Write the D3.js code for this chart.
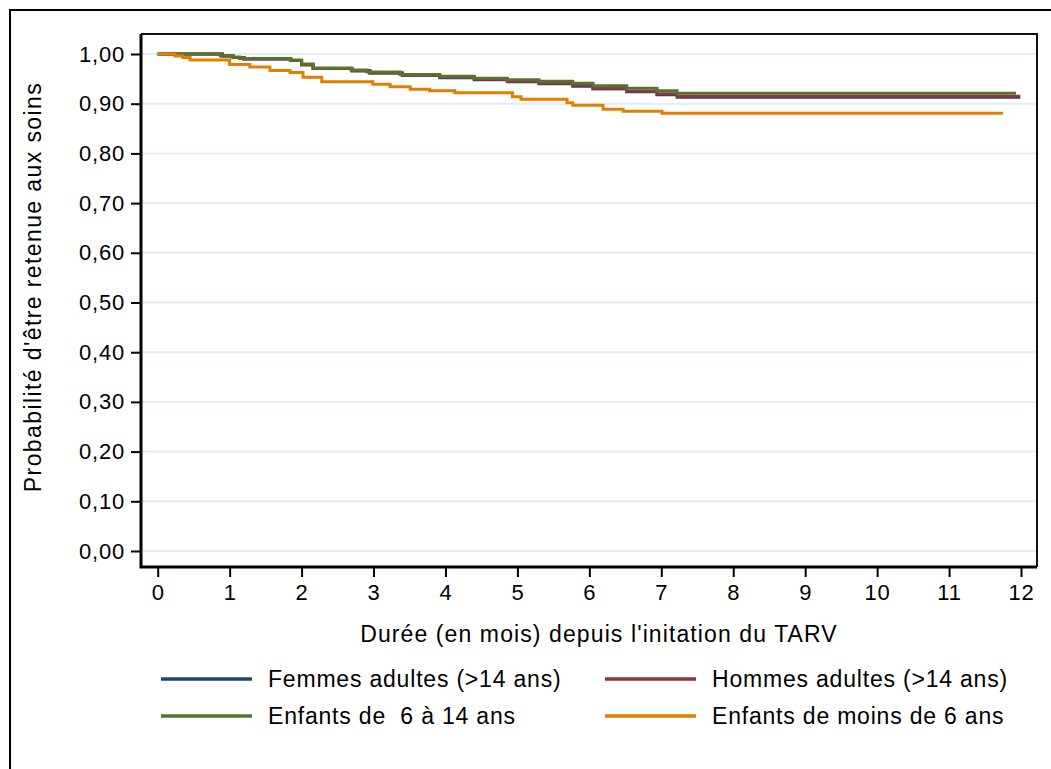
<!DOCTYPE html>
<html>
<head>
<meta charset="utf-8">
<script src="https://cdn.jsdelivr.net/npm/d3@7"></script>
<style>
  body { margin: 0; background: #fff; }
  svg { display: block; font-family: "Liberation Sans", Arial, sans-serif; }
</style>
</head>
<body>
<div id="plot"></div>
<script>
// Kaplan-Meier style retention curves (step functions)
// each series: months since ART start, probability
const femmesT = [0, 0.9, 1.05, 1.2, 1.85, 2.0, 2.16, 2.7, 2.95, 3.4, 3.92, 4.4, 4.86, 5.3, 5.77, 6.05, 6.52, 6.94, 7.22, 11.99];
const femmesV = [1.000, 0.996, 0.993, 0.990, 0.987, 0.979, 0.971, 0.966, 0.962, 0.957, 0.952, 0.948, 0.944, 0.940, 0.935, 0.930, 0.924, 0.918, 0.913, 0.913];

const hommesT = [0, 0.9, 1.05, 1.2, 1.85, 2.0, 2.16, 2.7, 2.95, 3.4, 3.92, 4.4, 4.86, 5.3, 5.77, 6.05, 6.52, 6.94, 7.22, 11.97];
const hommesV = [1.000, 0.996, 0.993, 0.990, 0.987, 0.978, 0.971, 0.967, 0.962, 0.957, 0.953, 0.949, 0.945, 0.941, 0.937, 0.930, 0.925, 0.920, 0.915, 0.914];

const enf614T = [0, 0.87, 1.03, 1.14, 1.84, 2.0, 2.16, 2.69, 2.91, 3.37, 3.92, 4.4, 4.86, 5.3, 5.77, 6.05, 6.52, 6.94, 7.22, 11.93];
const enf614V = [1.000, 0.996, 0.994, 0.991, 0.988, 0.980, 0.972, 0.968, 0.964, 0.959, 0.955, 0.951, 0.948, 0.945, 0.941, 0.936, 0.931, 0.926, 0.921, 0.921];

const enf6T = [0, 0.24, 0.35, 0.45, 1.0, 1.28, 1.56, 1.84, 2.02, 2.28, 2.99, 3.23, 3.51, 3.78, 4.13, 4.93, 5.05, 5.69, 5.77, 6.19, 6.47, 7.01, 11.75];
const enf6V = [1.000, 0.996, 0.993, 0.988, 0.979, 0.974, 0.967, 0.963, 0.953, 0.944, 0.939, 0.934, 0.929, 0.926, 0.922, 0.914, 0.909, 0.902, 0.897, 0.889, 0.885, 0.881, 0.881];

const seriesNames = ["Femmes adultes (>14 ans)", "Hommes adultes (>14 ans)", "Enfants de  6 à 14 ans", "Enfants de moins de 6 ans"];
const seriesColors = ["#1a476f", "#90353b", "#55752f", "#e37e00"];

const xTicks = d3.range(0, 13);
const yTicks = d3.range(0, 11).map(i => i / 10);

const xTitle = "Durée (en mois) depuis l'initation du TARV";
const yTitle = "Probabilité d'être retenue aux soins";

const series = [
  { name: seriesNames[0], color: seriesColors[0], pts: femmesT.map((t, i) => [t, femmesV[i]]) },
  { name: seriesNames[1], color: seriesColors[1], pts: hommesT.map((t, i) => [t, hommesV[i]]) },
  { name: seriesNames[2], color: seriesColors[2], pts: enf614T.map((t, i) => [t, enf614V[i]]) },
  { name: seriesNames[3], color: seriesColors[3], pts: enf6T.map((t, i) => [t, enf6V[i]]) }
];

const W = 1051, H = 769;
// plot region box
const box = { left: 141, right: 1037, top: 34, bottom: 567 };

const fr = d3.formatLocale({ decimal: ",", thousands: " ", grouping: [3], currency: ["", ""] });
const fmt = fr.format(".2f");

const svg = d3.select("#plot").append("svg")
  .attr("width", W)
  .attr("height", H);

// outer graph border (runs off the page right and bottom)
svg.append("rect")
  .attr("x", 10).attr("y", 10)
  .attr("width", 1100).attr("height", 900)
  .attr("fill", "none")
  .attr("stroke", "#000")
  .attr("stroke-width", 2);

const x = d3.scaleLinear().domain([0, 12]).range([157.7, 1021]);
const y = d3.scaleLinear().domain([0, 1]).range([551, 54]);

// gridlines
svg.append("g")
  .selectAll("line")
  .data(yTicks)
  .join("line")
  .attr("x1", box.left).attr("x2", box.right)
  .attr("y1", d => y(d)).attr("y2", d => y(d))
  .attr("stroke", "#e3edf0")
  .attr("stroke-width", 2);

// top and right border of plot region
svg.append("path")
  .attr("d", `M${box.left},${box.top}H${box.right}V${box.bottom}`)
  .attr("fill", "none")
  .attr("stroke", "#111")
  .attr("stroke-width", 2);

// curves
const line = d3.line()
  .x(d => x(d[0]))
  .y(d => y(d[1]))
  .curve(d3.curveStepAfter);

svg.append("g")
  .selectAll("path")
  .data(series)
  .join("path")
  .attr("d", d => line(d.pts))
  .attr("fill", "none")
  .attr("stroke", d => d.color)
  .attr("stroke-width", 3);

// axes
const yAxis = d3.axisLeft(y)
  .tickValues(yTicks)
  .tickFormat(fmt)
  .tickSize(10)
  .tickPadding(6);

const xAxis = d3.axisBottom(x)
  .tickValues(xTicks)
  .tickFormat(d3.format("d"))
  .tickSize(10)
  .tickPadding(7);

const gy = svg.append("g")
  .attr("transform", `translate(${box.left},0)`)
  .call(yAxis);

const gx = svg.append("g")
  .attr("transform", `translate(0,${box.bottom})`)
  .call(xAxis);

[gx, gy].forEach(g => {
  g.select(".domain").remove();
  g.selectAll(".tick line").attr("stroke", "#000").attr("stroke-width", 2);
  g.selectAll(".tick text")
    .attr("fill", "#000")
    .style("font-size", "22px")
    .style("letter-spacing", "0.8px");
});

// axis lines
svg.append("path")
  .attr("d", `M${box.left},${box.top}V${box.bottom}H${box.right}`)
  .attr("fill", "none")
  .attr("stroke", "#000")
  .attr("stroke-width", 3);

// axis titles
svg.append("text")
  .attr("x", 599)
  .attr("y", 642)
  .attr("text-anchor", "middle")
  .style("font-size", "23px")
  .style("letter-spacing", "1.1px")
  .text(xTitle);

svg.append("text")
  .attr("transform", `translate(41,287) rotate(-90)`)
  .attr("text-anchor", "middle")
  .style("font-size", "23px")
  .style("letter-spacing", "1.4px")
  .text(yTitle);

// legend: two columns, two rows
const legendPos = [
  { x: 161, y: 679 },
  { x: 605, y: 679 },
  { x: 161, y: 716 },
  { x: 605, y: 716 }
];

const leg = svg.append("g")
  .selectAll("g")
  .data(series)
  .join("g")
  .attr("transform", (d, i) => `translate(${legendPos[i].x},${legendPos[i].y})`);

leg.append("line")
  .attr("x1", 0).attr("x2", 91)
  .attr("y1", 0).attr("y2", 0)
  .attr("stroke", d => d.color)
  .attr("stroke-width", 3.5);

leg.append("text")
  .attr("x", 107)
  .attr("y", 8)
  .style("font-size", "23px")
  .style("letter-spacing", "0.8px")
  .style("white-space", "pre")
  .text(d => d.name);
</script>
</body>
</html>
